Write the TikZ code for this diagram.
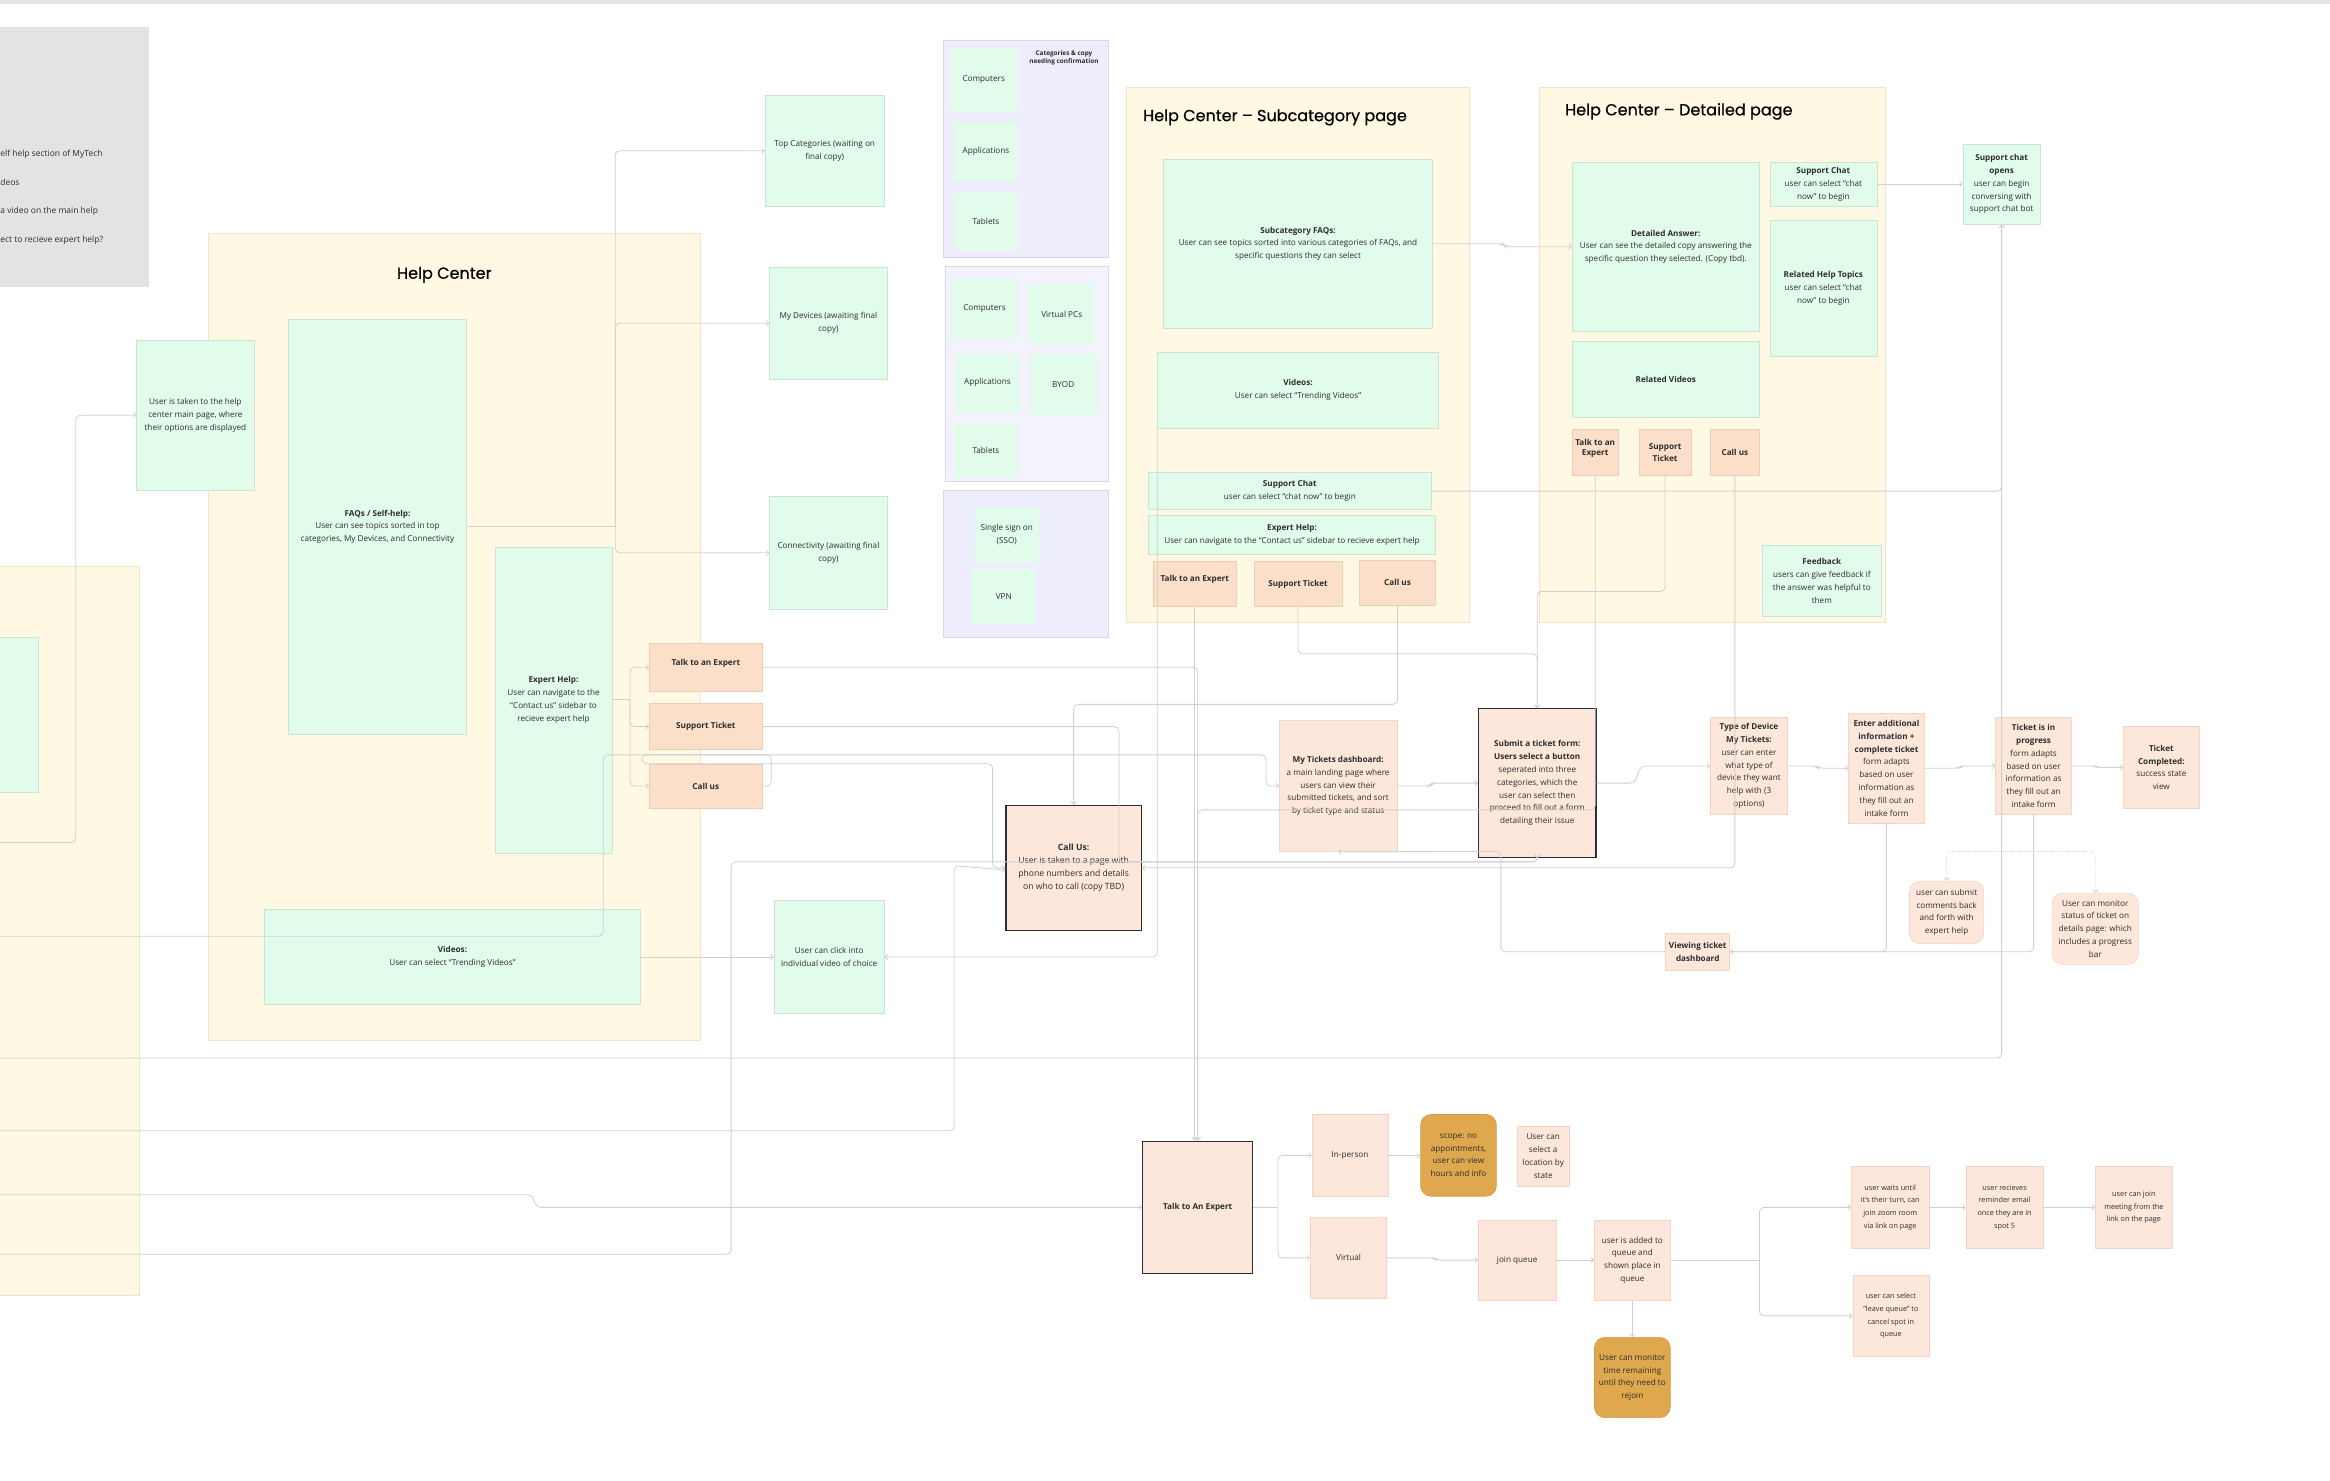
\documentclass[tikz,border=0pt]{standalone}
\usepackage{fontspec}
\setmainfont{Open Sans}
\newfontfamily\titlefont{Poppins}[FakeBold=0.6]
\usetikzlibrary{arrows.meta}

\definecolor{ink}{RGB}{45,45,45}
\definecolor{greenfill}{RGB}{225,252,235}
\definecolor{greenedge}{RGB}{205,226,212}
\definecolor{peachfill}{RGB}{253,231,219}
\definecolor{peachedge}{RGB}{240,214,200}
\definecolor{btnfill}{RGB}{252,223,200}
\definecolor{btnedge}{RGB}{236,205,185}
\definecolor{gold}{RGB}{224,168,78}
\definecolor{goldedge}{RGB}{210,155,70}
\definecolor{yellowfill}{RGB}{255,249,227}
\definecolor{yellowedge}{RGB}{238,230,204}
\definecolor{purplefill}{RGB}{238,237,252}
\definecolor{purplelight}{RGB}{243,242,253}
\definecolor{purpleedge}{RGB}{216,215,234}
\definecolor{graybg}{RGB}{227,227,227}
\definecolor{wire}{RGB}{208,208,208}

\tikzset{every picture/.style={line width=0.5pt}}
\tikzset{
  sz/.style 2 args={minimum width=#1pt, minimum height=#2pt},
  txt/.style={font=\fontsize{5.5}{8.6}\selectfont, text=ink, align=center, inner sep=0pt},
  smallfont/.style={font=\fontsize{4.9}{8.5}\selectfont},
  notetxt/.style={font=\fontsize{5.7}{7}\selectfont, text=ink, inner sep=0pt},
  title/.style={font=\titlefont\fontsize{10.8}{12}\selectfont, text=black, inner sep=0pt},
  greenbox/.style={txt, draw=greenedge, fill=greenfill, line width=0.4pt},
  catbox/.style={txt, fill=greenfill},
  peachbox/.style={txt, draw=peachedge, fill=peachfill, line width=0.4pt},
  btnbox/.style={txt, draw=btnedge, fill=btnfill, line width=0.4pt, font=\fontsize{5.5}{8.6}\selectfont\bfseries},
  darkbox/.style={txt, draw=ink, fill=peachfill, line width=0.9pt},
  goldbox/.style={txt, draw=goldedge, fill=gold, rounded corners=7pt, line width=0.4pt},
  softbox/.style={peachbox, rounded corners=7pt},
  container/.style={fill=yellowfill, draw=yellowedge, line width=0.4pt},
  purplebox/.style={fill=purplefill, draw=purpleedge, line width=0.4pt},
  conn/.style={draw=wire, line width=0.55pt, rounded corners=3pt},
  arr/.style={conn, -{Straight Barb[length=1.8pt,width=3.6pt]}},
  dotconn/.style={arr, densely dotted},
}
\newcommand{\uptext}[1]{\raisebox{7pt}{#1}}

\begin{document}
\begin{tikzpicture}[x=1pt,y=1pt,yscale=-1]
\useasboundingbox (0,0) rectangle (1568,996);
\fill[graybg] (0,0) rectangle (1568,2.5);

% notes panel
\fill[graybg] (0,18) rectangle (100,193);
\node[notetxt, anchor=west] (noteA) at (0,103.5) {elf help section of MyTech};
\node[notetxt, anchor=west] (noteB) at (0,123) {deos};
\node[notetxt, anchor=west] (noteC) at (0,142) {a video on the main help};
\node[notetxt, anchor=west] (noteD) at (0,161.5) {ect to recieve expert help?};

% containers
\draw[container] (-5,381) rectangle (94,872);
\draw[greenedge, fill=greenfill, line width=0.4pt] (-5,429) rectangle (26,533);
\draw[container] (140,157) rectangle (471,700);
\draw[container] (758,59) rectangle (989,419);
\draw[container] (1036,59) rectangle (1269,419);
\draw[purplebox] (635,27) rectangle (746,173);
\draw[purplebox, fill=purplelight] (636,179) rectangle (746,324);
\draw[purplebox] (635,330) rectangle (746,429);

\node[title] (hcTitle) at (299,185) {Help Center};
\node[title, anchor=west] (subTitle) at (769,79) {Help Center – Subcategory page};
\node[title, anchor=west] (detTitle) at (1053,75) {Help Center – Detailed page};

% help center main page
\node[greenbox, sz={79}{101}] (userTaken) at (131.5,279.5) {User is taken to the help\\center main page, where\\their options are displayed};
\node[greenbox, sz={120}{279}] (faq) at (254,354.5) {\textbf{FAQs / Self-help:}\\User can see topics sorted in top\\categories, My Devices, and Connectivity};
\node[greenbox, sz={79}{206}] (hcExpert) at (372.5,471) {\textbf{Expert Help:}\\User can navigate to the\\“Contact us” sidebar to\\recieve expert help};
\node[greenbox, sz={253}{64}] (hcVid) at (304.5,644) {\textbf{Videos:}\\User can select “Trending Videos”};
\node[btnbox, sz={76}{32}] (hcTalk) at (475,449) {\uptext{Talk to an Expert}};
\node[btnbox, sz={76}{31}] (hcTicket) at (475,489) {Support Ticket};
\node[btnbox, sz={76}{30}] (hcCall) at (475,529) {Call us};

\node[greenbox, sz={80}{75}] (topCat) at (555,101.5) {Top Categories (waiting on\\final copy)};
\node[greenbox, sz={79}{75}] (myDev) at (557.5,217.5) {My Devices (awaiting final\\copy)};
\node[greenbox, sz={79}{76}] (connect) at (557.5,372) {Connectivity (awaiting final\\copy)};
\node[greenbox, sz={74}{76}] (userClick) at (558,644) {User can click into\\individual video of choice};

% categories
\node[txt, font=\fontsize{4.3}{5.5}\selectfont\bfseries] (catNote) at (716,39) {Categories \& copy\\needing confirmation};
\node[catbox, sz={46}{43}] (topComp) at (662,53.5) {Computers};
\node[catbox, sz={43}{40}] (topApps) at (663.5,102) {Applications};
\node[catbox, sz={43}{38}] (topTabs) at (663.5,149) {Tablets};
\node[catbox, sz={45}{41}] (devComp) at (662.5,207.5) {Computers};
\node[catbox, sz={45}{41}] (devVirt) at (714.5,211.5) {Virtual PCs};
\node[catbox, sz={43}{39}] (devApps) at (664.5,257.5) {Applications};
\node[catbox, sz={45}{41}] (devByod) at (715.5,258.5) {BYOD};
\node[catbox, sz={43}{36}] (devTabs) at (663.5,303) {Tablets};
\node[catbox, sz={43}{37}] (netSso) at (677.5,359.5) {Single sign on\\(SSO)};
\node[catbox, sz={43}{37}] (netVpn) at (675.5,401.5) {VPN};

% subcategory page
\node[greenbox, sz={181}{114}] (subFaq) at (873.5,164) {\textbf{Subcategory FAQs:}\\User can see topics sorted into various categories of FAQs, and\\specific questions they can select};
\node[greenbox, sz={189}{51}] (subVid) at (873.5,262.5) {\textbf{Videos:}\\User can select “Trending Videos”};
\node[greenbox, sz={190}{25}] (subChat) at (868,330.5) {\textbf{Support Chat}\\user can select “chat now” to begin};
\node[greenbox, sz={193}{26}] (subExpert) at (869.5,360) {\textbf{Expert Help:}\\User can navigate to the “Contact us” sidebar to recieve expert help};
\node[btnbox, sz={56}{30}] (subTalk) at (804,393) {\uptext{Talk to an Expert}};
\node[btnbox, sz={59}{30}] (subTicket) at (873.5,393) {Support Ticket};
\node[btnbox, sz={51}{30}] (subCall) at (940.5,392) {Call us};

% detailed page
\node[greenbox, sz={126}{114}] (detAns) at (1121,166) {\textbf{Detailed Answer:}\\User can see the detailed copy answering the\\specific question they selected. (Copy tbd).};
\node[greenbox, sz={126}{51}] (relVid) at (1121,255.5) {\textbf{Related Videos}};
\node[btnbox, sz={31}{31}] (detTalk) at (1073.5,304.5) {\uptext{\shortstack{Talk to an\\Expert}}};
\node[btnbox, sz={35}{31}] (detTicket) at (1120.5,304.5) {Support\\Ticket};
\node[btnbox, sz={33}{31}] (detCall) at (1167.5,304.5) {Call us};
\node[greenbox, sz={72}{30}] (detChat) at (1227,124) {\textbf{Support Chat}\\user can select “chat\\now” to begin};
\node[greenbox, sz={72}{92}] (relTopics) at (1227,194) {\textbf{Related Help Topics}\\user can select “chat\\now” to begin};
\node[greenbox, sz={80}{48}] (feedback) at (1226,391) {\textbf{Feedback}\\users can give feedback if\\the answer was helpful to\\them};
\node[greenbox, sz={52}{54}] (chatOpen) at (1347,124) {\textbf{Support chat}\\\textbf{opens}\\user can begin\\conversing with\\support chat bot};

% call us and tickets
\node[darkbox, sz={91}{84}, font=\fontsize{5.8}{8.6}\selectfont] (callUs) at (722.5,584) {\textbf{Call Us:}\\User is taken to a page with\\phone numbers and details\\on who to call (copy TBD)};
\node[peachbox, sz={79}{88}] (myTix) at (900.5,529) {\textbf{My Tickets dashboard:}\\a main landing page where\\users can view their\\submitted tickets, and sort\\by ticket type and status};
\node[darkbox, sz={79}{100}] (submit) at (1034.5,527) {\textbf{Submit a ticket form:}\\\textbf{Users select a button}\\seperated into three\\categories, which the\\user can select then\\proceed to fill out a form\\detailing their issue};
\node[peachbox, sz={52}{65}] (typeDev) at (1177,515.5) {\textbf{Type of Device}\\\textbf{My Tickets:}\\user can enter\\what type of\\device they want\\help with (3\\options)};
\node[peachbox, sz={51}{74}] (enter) at (1269.5,517) {\textbf{Enter additional}\\\textbf{information +}\\\textbf{complete ticket}\\form adapts\\based on user\\information as\\they fill out an\\intake form};
\node[peachbox, sz={51}{65}] (inProg) at (1368.5,515.5) {\textbf{Ticket is in}\\\textbf{progress}\\form adapts\\based on user\\information as\\they fill out an\\intake form};
\node[peachbox, sz={51}{55}] (complete) at (1454.5,516.5) {\textbf{Ticket}\\\textbf{Completed:}\\success state\\view};
\node[softbox, sz={50}{42}] (comments) at (1310,614) {user can submit\\comments back\\and forth with\\expert help};
\node[softbox, sz={58}{48}] (monitor) at (1410,625) {User can monitor\\status of ticket on\\details page: which\\includes a progress\\bar};
\node[peachbox, sz={43}{25}] (viewing) at (1142.5,640.5) {\textbf{Viewing ticket}\\\textbf{dashboard}};

% talk to an expert
\node[darkbox, sz={74}{89}] (bigTalk) at (806,812.5) {\textbf{Talk to An Expert}};
\node[peachbox, sz={51}{55}] (inPerson) at (908.5,777.5) {In-person};
\node[goldbox, sz={51}{55}] (scope) at (981.5,777.5) {scope: no\\appointments,\\user can view\\hours and info};
\node[peachbox, sz={35}{40}] (location) at (1038.5,778) {User can\\select a\\location by\\state};
\node[peachbox, sz={51}{55}] (virtual) at (907.5,846.5) {Virtual};
\node[peachbox, sz={52}{54}] (joinQ) at (1021,848) {join queue};
\node[peachbox, sz={51}{54}] (added) at (1098.5,848) {user is added to\\queue and\\shown place in\\queue};
\node[goldbox, sz={51}{54}] (monTime) at (1098.5,927) {User can monitor\\time remaining\\until they need to\\rejoin};
\node[peachbox, smallfont, sz={52}{55}] (wait) at (1272,812.5) {user waits until\\it’s their turn, can\\join zoom room\\via link on page};
\node[peachbox, smallfont, sz={52}{55}] (remind) at (1349,812.5) {user recieves\\reminder email\\once they are in\\spot 5};
\node[peachbox, smallfont, sz={52}{55}] (joinMeet) at (1436,812.5) {user can join\\meeting from the\\link on the page};
\node[peachbox, smallfont, sz={51}{55}] (leave) at (1272.5,885.5) {user can select\\“leave queue” to\\cancel spot in\\queue};

% free ends at the left edge
\coordinate (inA) at (0,567);
\coordinate (inB) at (0,630);
\coordinate (inC) at (0,712);
\coordinate (inD) at (0,761);
\coordinate (inE) at (0,804);
\coordinate (inF) at (0,844);

% connectors
\draw[arr] (inA) -- (51,567) |- (userTaken.west);
\coordinate (faqSplit) at (414,354.5);
\draw[conn] (faq.east) -- (faqSplit);
\draw[arr] (faqSplit) |- (topCat.west);
\draw[arr] (faqSplit) |- (myDev.west);
\draw[arr] (faqSplit) |- (connect.west);
\coordinate (expSplit) at (424,471);
\draw[conn] (hcExpert.east) -- (expSplit);
\draw[arr] (expSplit) |- (hcTalk.west);
\draw[arr] (expSplit) |- (hcTicket.west);
\draw[arr] (expSplit) |- (hcCall.west);

\draw[arr] (hcTalk.east) -| (bigTalk.north);
\draw[arr] (subTalk.south) -- (subTalk.south |- bigTalk.north);
\draw[arr] (detTalk.south) |- (900,545) -| (bigTalk.north);
\draw[arr] (inE) -- (358,804) -- (361,812.5) -- (bigTalk.west);

\draw[arr] (subVid.south west) |- (userClick.east);
\draw[arr] (hcVid.east) -- (userClick.west);

\draw[arr] (hcTicket.east) -| (753,580) -| (submit.south);
\draw[arr] (inF) -| (492,580) -| (submit.south);
\draw[arr] (subTicket.south) |- (950,440) -| (submit.north);
\draw[arr] (detTicket.south) |- (1080,398) -| (submit.north);

\draw[arr] (hcCall.east) -- (519,529) -- (519,508) -- (432,508) -- (432,514) -- (668,514) |- (callUs.west);
\draw[arr] (inD) -| (642,582.5) -- ([yshift=1.5pt]callUs.west);
\draw[arr] (subCall.south) |- (800,474) -| (callUs.north);
\draw[arr] (detCall.south) |- (callUs.east);

\draw[arr] (inB) -| (406,508) -| (852,529) -- (myTix.west);
\draw[arr] (subFaq.east) -- (1011,164) -- (1013,166) -- (detAns.west);
\draw[arr] (detChat.east) -- (chatOpen.west);
\draw[arr] (subChat.east) -| (chatOpen.south);
\draw[arr] (inC) -| (chatOpen.south);

\draw[arr] (myTix.east) -- (962,529) -- (964,527) -- (submit.west);
\draw[arr] (submit.east) -- (1100,527) -- (1104,515.5) -- (typeDev.west);
\draw[arr] (typeDev.east) -- (1222,515.5) -- (1224,517) -- (enter.west);
\draw[arr] (enter.east) -- (1318,517) -- (1320,515.5) -- (inProg.west);
\draw[arr] (inProg.east) -- (1410,515.5) -- (1412,516.5) -- (complete.west);
\coordinate (progSplit) at (1368.5,573);
\draw[dotconn] (progSplit) -| (comments.north);
\draw[dotconn] (progSplit) -| (monitor.north);
\draw[arr] (inProg.south) |- (viewing.east);
\draw[conn] (enter.south) |- (viewing.east);
\draw[arr] (viewing.west) -| (1010,573) -- (myTix.south);

\coordinate (talkSplit) at (860,812.5);
\draw[conn] (bigTalk.east) -- (talkSplit);
\draw[arr] (talkSplit) |- (inPerson.west);
\draw[arr] (talkSplit) |- (virtual.west);
\draw[arr] (inPerson.east) -- (scope.west);
\draw[arr] (virtual.east) -- (965,846.5) -- (967,848) -- (joinQ.west);
\draw[arr] (joinQ.east) -- (added.west);
\draw[arr] (added.south) -- (monTime.north);
\coordinate (queueSplit) at (1184,848);
\draw[conn] (added.east) -- (queueSplit);
\draw[arr] (queueSplit) |- (wait.west);
\draw[arr] (queueSplit) |- (leave.west);
\draw[arr] (wait.east) -- (remind.west);
\draw[arr] (remind.east) -- (joinMeet.west);

\end{tikzpicture}
\end{document}
